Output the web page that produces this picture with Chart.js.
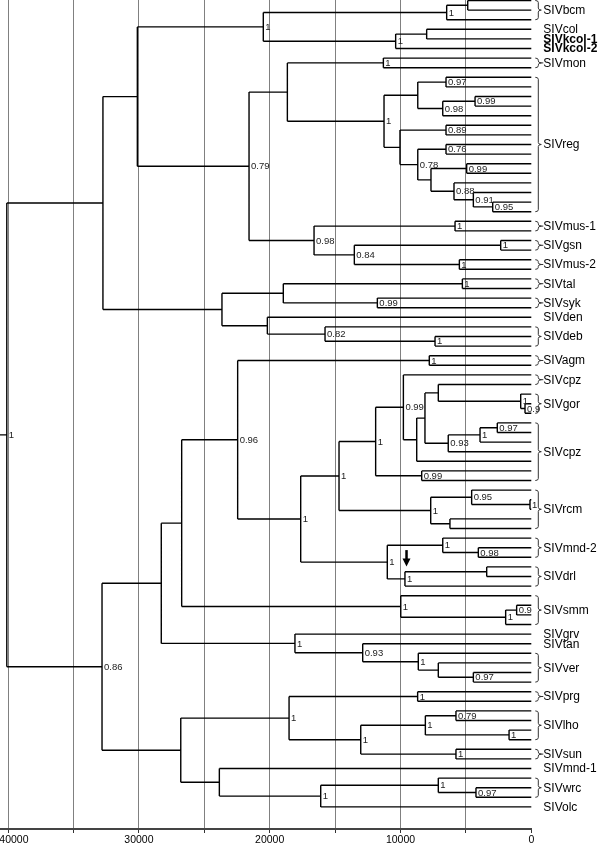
<!DOCTYPE html>
<html>
<head>
<meta charset="utf-8">
<script src="https://cdn.jsdelivr.net/npm/chart.js@4"></script>
<style>
html,body{margin:0;padding:0;background:#fff;}
canvas{display:block;}
</style>
</head>
<body>
<canvas id="c" width="600" height="846" style="width:600px;height:846px"></canvas>
<script>
// ---- DATA ----
// Tree written as nested clades: "(children)support:nodeAge"; "*" is a tip at age 0.
const cladeA1a = "(((*,*):4860,*)1:6470,((*,*):8000,*)1:10370)1:20490";
const cladeReg = "(((*,*)0.97:6520,((*,*)0.99:4300,*)0.98:6770):8680,((*,*)0.89:6520,((*,*)0.76:6520,((*,*)0.99:4940,(*,(*,(*,*)0.95:2950)0.91:4430)0.88:5910):7670)0.78:8680):10040)1:11260";
const cladeMus = "((*,*)1:5830,((*,*)1:2340,(*,*)1:5500)0.84:13530)0.98:16610";
const cladeA2 = "(((*,*)1:5270,(*,*)0.99:11770):18960,(*,(*,(*,*)1:7360)0.82:15770):20180):23650";
const cladeCpz = "((*,(((*,(*,(*,*)0.9:480)1:810):7110,(((*,*)0.97:2600,*)1:3920,*)0.93:6350):8130,*):8760)0.99:9780,(*,*)0.99:8380)1:11900";
const cladeRcm = "((*,(*,*)1:100)0.95:4560,(*,*):6220)1:7690";
const cladeMndDrl = "((*,(*,*)0.98:4050)1:6770,((*,*):3410,*)1:9660)1:11010";
const cladeSmm = "(*,((*,*)0.9:1120,*)1:1960)1:9980";
const cladeGrvVer = "(*,(*,(*,(*,(*,*)0.97:4430):7110)1:8640)0.93:12890)1:18070";
const cladeB2a = "((*,*)1:8690,(((*,*)0.79:5760,(*,*)1:1700)1:8100,(*,*)1:5760)1:13040)1:18520";
const cladeB2b = "(*,((*,(*,*)0.97:4230)1:7110,*)1:16100):23850";
const rootSupport = "1", rootAge = 40100, rootStemAge = 40620;

const cladeA1 = `(${cladeA1a},(((*,*)1:11310,${cladeReg}):18650,${cladeMus})0.79:21580):30120`;
const cladeA = `(${cladeA1},${cladeA2}):32750`;
const cladeB1a1b = `((${cladeCpz},${cladeRcm})1:14700,${cladeMndDrl})1:17630`;
const cladeB1a1 = `((*,*)1:7800,${cladeB1a1b})0.96:22450`;
const cladeB1a = `(${cladeB1a1},${cladeSmm}):26730`;
const cladeB1 = `(${cladeB1a},${cladeGrvVer}):28290`;
const cladeB2 = `(${cladeB2a},${cladeB2b}):26800`;
const cladeB = `(${cladeB1},${cladeB2})0.86:32820`;
const treeNewick = `(${cladeA},${cladeB})${rootSupport}:${rootAge}`;

// Tip groups: label, first tip, last tip (1-based), bold
const groupNames = ["SIVbcm","SIVcol","SIVkcol-1","SIVkcol-2","SIVmon","SIVreg","SIVmus-1","SIVgsn","SIVmus-2","SIVtal","SIVsyk","SIVden","SIVdeb","SIVagm","SIVcpz","SIVgor","SIVcpz","SIVrcm","SIVmnd-2","SIVdrl","SIVsmm","SIVgrv","SIVtan","SIVver","SIVprg","SIVlho","SIVsun","SIVmnd-1","SIVwrc","SIVolc"];
const groupFirst = [1,4,5,6,7,9,24,26,28,30,32,34,35,38,40,42,45,52,57,60,63,67,68,69,73,75,79,81,82,85];
const groupLast  = [3,4,5,6,8,23,25,27,29,31,33,34,37,39,41,44,51,56,59,62,66,67,68,72,74,78,80,81,84,85];
const groupBold  = ["SIVkcol-1","SIVkcol-2"];

// axis
const axisMin = 0, axisMax = 40620;
const tickValues = [0, 5000, 10000, 15000, 20000, 25000, 30000, 35000, 40000];
const tickLabels = ["0", "", "10000", "", "20000", "", "30000", "", "    40000"];
// arrow marker: [age, from tip position, to tip position]
const arrowMark = [9540, 58.25, 59.95];

// ---- PARSE & LAYOUT ----
function parseNewick(str){
  let i = 0;
  function node(){
    const n = {children:[], support:'', age:0};
    if (str[i] === '('){
      i++;
      n.children.push(node());
      while (str[i] === ','){ i++; n.children.push(node()); }
      i++;
      let lab = '';
      while (i < str.length && !':,)'.includes(str[i])) lab += str[i++];
      n.support = lab;
      if (str[i] === ':'){
        i++; let a = '';
        while (i < str.length && !',)'.includes(str[i])) a += str[i++];
        n.age = parseFloat(a);
      }
    } else { i++; }
    return n;
  }
  return node();
}
const root = parseNewick(treeNewick);
let tipCount = 0;
function layout(n){
  if (!n.children.length){ n.y = ++tipCount; return; }
  n.children.forEach(layout);
  const ys = n.children.map(c => c.y);
  n.ymin = Math.min(...ys); n.ymax = Math.max(...ys);
  n.y = (n.ymin + n.ymax) / 2;
}
layout(root);

const pts = [];
const supports = [];
const GAP = {x:null, y:null};
pts.push({x:rootStemAge, y:root.y}, {x:root.age, y:root.y}, GAP);
function collect(n){
  if (!n.children.length) return;
  pts.push({x:n.age, y:n.ymin}, {x:n.age, y:n.ymax}, GAP);
  n.children.forEach(c => { pts.push({x:n.age, y:c.y}, {x:c.age, y:c.y}, GAP); });
  if (n.support) supports.push({age:n.age, y:n.y, text:n.support});
  n.children.forEach(collect);
}
collect(root);

const FONT = '"Liberation Sans", Arial, Helvetica, sans-serif';

const overlay = {
  id: 'overlay',
  afterDatasetsDraw(chart){
    const {ctx, scales:{x, y}} = chart;
    ctx.save();
    ctx.fillStyle = '#222';
    ctx.font = '9.5px ' + FONT;
    ctx.textAlign = 'left';
    ctx.textBaseline = 'middle';
    supports.forEach(s => {
      ctx.fillText(s.text, x.getPixelForValue(s.age) + 2, y.getPixelForValue(s.y) + 0.5);
    });
    const x0 = x.getPixelForValue(0);
    groupNames.forEach((name, k) => {
      const y1 = y.getPixelForValue(groupFirst[k]);
      const y2 = y.getPixelForValue(groupLast[k]);
      const ym = (y1 + y2) / 2;
      if (groupLast[k] > groupFirst[k]) {
        ctx.strokeStyle = '#333';
        ctx.lineWidth = 1;
        ctx.beginPath();
        ctx.moveTo(x0 + 4, y1);
        ctx.quadraticCurveTo(x0 + 7, y1, x0 + 7, y1 + 2);
        ctx.lineTo(x0 + 7, ym - 2);
        ctx.quadraticCurveTo(x0 + 7, ym, x0 + 10, ym);
        ctx.quadraticCurveTo(x0 + 7, ym, x0 + 7, ym + 2);
        ctx.lineTo(x0 + 7, y2 - 2);
        ctx.quadraticCurveTo(x0 + 7, y2, x0 + 4, y2);
        ctx.stroke();
        if (groupLast[k] - groupFirst[k] === 1) {
          ctx.beginPath(); ctx.moveTo(x0 + 9, ym); ctx.lineTo(x0 + 12, ym); ctx.stroke();
        }
      }
      ctx.fillStyle = '#000';
      ctx.font = (groupBold.includes(name) ? 'bold ' : '') + '12px ' + FONT;
      ctx.textBaseline = 'middle';
      ctx.fillText(name, x0 + 12, ym + 0.5);
    });
    const ax = x.getPixelForValue(arrowMark[0]);
    const ay1 = y.getPixelForValue(arrowMark[1]);
    const ay2 = y.getPixelForValue(arrowMark[2]);
    ctx.strokeStyle = '#000'; ctx.fillStyle = '#000';
    ctx.lineWidth = 2.5;
    ctx.beginPath(); ctx.moveTo(ax, ay1); ctx.lineTo(ax, ay2 - 6); ctx.stroke();
    ctx.beginPath(); ctx.moveTo(ax - 4, ay2 - 8); ctx.lineTo(ax + 4, ay2 - 8); ctx.lineTo(ax, ay2); ctx.closePath(); ctx.fill();
    ctx.restore();
  }
};

new Chart(document.getElementById('c'), {
  type: 'scatter',
  data: {
    datasets: [{
      data: pts,
      showLine: true,
      spanGaps: false,
      borderColor: '#000',
      borderWidth: 1.4,
      pointRadius: 0,
      pointHoverRadius: 0,
      tension: 0,
      clip: false
    }]
  },
  options: {
    responsive: false,
    animation: false,
    events: [],
    layout: {padding: {left: 0, right: 68.7, top: 0, bottom: 0}},
    plugins: {legend: {display: false}, tooltip: {enabled: false}},
    scales: {
      x: {
        type: 'linear',
        reverse: true,
        bounds: 'data',
        min: axisMin,
        max: axisMax,
        afterBuildTicks(s){ s.ticks = tickValues.map(v => ({value: v})); },
        afterFit(s){ s.height = 17; s.paddingLeft = 0; s.paddingRight = 0; },
        ticks: {
          autoSkip: false,
          maxRotation: 0,
          padding: 1,
          color: '#000',
          font: {size: 10.5, family: FONT},
          callback: (v) => { const k = tickValues.indexOf(v); return k >= 0 ? tickLabels[k] : ''; }
        },
        grid: {
          color: c => (c.tick && c.tick.value === 0) ? 'rgba(0,0,0,0)' : '#808080',
          lineWidth: 1,
          tickLength: 4,
          tickColor: '#333',
          drawTicks: true
        },
        border: {color: '#444', width: 2}
      },
      y: {
        type: 'linear',
        reverse: true,
        min: 0.948,
        max: 87.302,
        display: false
      }
    }
  },
  plugins: [overlay]
});
</script>
</body>
</html>
